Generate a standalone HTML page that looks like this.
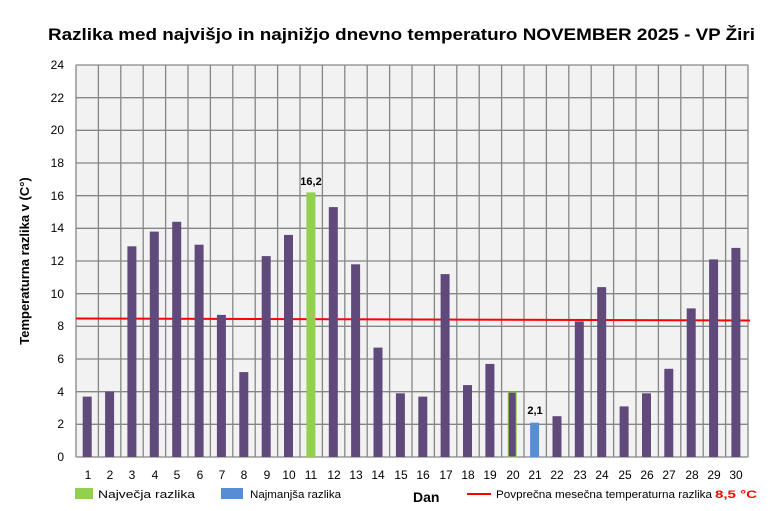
<!DOCTYPE html>
<html><head><meta charset="utf-8"><style>
html,body{margin:0;padding:0;background:#fff}
svg{display:block;font-family:"Liberation Sans",sans-serif}
</style></head><body>
<svg width="770" height="511" viewBox="0 0 770 511" xmlns="http://www.w3.org/2000/svg">
<rect width="770" height="511" fill="#fff"/>
<text x="48" y="40" font-size="17" font-weight="bold" textLength="707" lengthAdjust="spacingAndGlyphs">Razlika med najvišjo in najnižjo dnevno temperaturo NOVEMBER 2025 - VP Žiri</text>
<rect x="76" y="65" width="672" height="392" fill="#f2f2f2"/>
<g stroke="#868686" stroke-width="1.3" id="grid"></g>
<line x1="76" y1="318.5" x2="750" y2="320.5" stroke="#ff0000" stroke-width="2"/>
<text x="311" y="185" font-size="11" font-weight="bold" text-anchor="middle">16,2</text>
<text x="535" y="414" font-size="11" font-weight="bold" text-anchor="middle">2,1</text>
<g font-size="12" text-anchor="end">
<text x="64" y="461">0</text><text x="64" y="428">2</text><text x="64" y="396">4</text><text x="64" y="363">6</text><text x="64" y="330">8</text><text x="64" y="298">10</text><text x="64" y="265">12</text><text x="64" y="232">14</text><text x="64" y="200">16</text><text x="64" y="167">18</text><text x="64" y="134">20</text><text x="64" y="102">22</text><text x="64" y="69">24</text>
</g>
<g font-size="12" text-anchor="middle">
<text x="88" y="479">1</text><text x="110" y="479">2</text><text x="132" y="479">3</text><text x="155" y="479">4</text><text x="177" y="479">5</text><text x="200" y="479">6</text><text x="222" y="479">7</text><text x="244" y="479">8</text><text x="267" y="479">9</text><text x="289" y="479">10</text><text x="311" y="479">11</text><text x="334" y="479">12</text><text x="356" y="479">13</text><text x="378" y="479">14</text><text x="401" y="479">15</text><text x="423" y="479">16</text><text x="446" y="479">17</text><text x="468" y="479">18</text><text x="490" y="479">19</text><text x="513" y="479">20</text><text x="535" y="479">21</text><text x="557" y="479">22</text><text x="580" y="479">23</text><text x="602" y="479">24</text><text x="625" y="479">25</text><text x="647" y="479">26</text><text x="669" y="479">27</text><text x="692" y="479">28</text><text x="714" y="479">29</text><text x="736" y="479">30</text>
</g>
<text transform="translate(29,261) rotate(-90)" font-size="13" font-weight="bold" text-anchor="middle">Temperaturna razlika v (C°)</text>
<rect x="75" y="488" width="18" height="11" fill="#92d050"/>
<text x="98" y="498" font-size="11" textLength="97" lengthAdjust="spacingAndGlyphs">Največja razlika</text>
<rect x="221" y="488" width="22" height="11" fill="#558ed5"/>
<text x="250" y="498" font-size="11" textLength="91" lengthAdjust="spacingAndGlyphs">Najmanjša razlika</text>
<text x="413" y="502" font-size="14" font-weight="bold">Dan</text>
<line x1="467" y1="494" x2="491" y2="494" stroke="#ff0000" stroke-width="2"/>
<text x="496" y="498" font-size="11" textLength="216" lengthAdjust="spacingAndGlyphs">Povprečna mesečna temperaturna razlika</text>
<text x="715" y="498" font-size="11" font-weight="bold" fill="#ff0000" textLength="42" lengthAdjust="spacingAndGlyphs">8,5 °C</text>
<g>
<rect x="82.7" y="396.6" width="9" height="60.4" fill="#604a7b"/>
<rect x="105.1" y="391.7" width="9" height="65.3" fill="#604a7b"/>
<rect x="127.4" y="246.3" width="9" height="210.7" fill="#604a7b"/>
<rect x="149.8" y="231.6" width="9" height="225.4" fill="#604a7b"/>
<rect x="172.2" y="221.8" width="9" height="235.2" fill="#604a7b"/>
<rect x="194.6" y="244.7" width="9" height="212.3" fill="#604a7b"/>
<rect x="216.9" y="314.9" width="9" height="142.1" fill="#604a7b"/>
<rect x="239.3" y="372.1" width="9" height="84.9" fill="#604a7b"/>
<rect x="261.7" y="256.1" width="9" height="200.9" fill="#604a7b"/>
<rect x="284.0" y="234.9" width="9" height="222.1" fill="#604a7b"/>
<rect x="306.4" y="192.4" width="9" height="264.6" fill="#92d050"/>
<rect x="328.8" y="207.1" width="9" height="249.9" fill="#604a7b"/>
<rect x="351.1" y="264.3" width="9" height="192.7" fill="#604a7b"/>
<rect x="373.5" y="347.6" width="9" height="109.4" fill="#604a7b"/>
<rect x="395.9" y="393.3" width="9" height="63.7" fill="#604a7b"/>
<rect x="418.3" y="396.6" width="9" height="60.4" fill="#604a7b"/>
<rect x="440.6" y="274.1" width="9" height="182.9" fill="#604a7b"/>
<rect x="463.0" y="385.1" width="9" height="71.9" fill="#604a7b"/>
<rect x="485.4" y="363.9" width="9" height="93.1" fill="#604a7b"/>
<rect x="508.2" y="392.2" width="8" height="64.8" fill="#604a7b" stroke="#92d050" stroke-width="1"/>
<rect x="530.1" y="422.7" width="9" height="34.3" fill="#558ed5"/>
<rect x="552.5" y="416.2" width="9" height="40.8" fill="#604a7b"/>
<rect x="574.8" y="321.4" width="9" height="135.6" fill="#604a7b"/>
<rect x="597.2" y="287.1" width="9" height="169.9" fill="#604a7b"/>
<rect x="619.6" y="406.4" width="9" height="50.6" fill="#604a7b"/>
<rect x="642.0" y="393.3" width="9" height="63.7" fill="#604a7b"/>
<rect x="664.3" y="368.8" width="9" height="88.2" fill="#604a7b"/>
<rect x="686.7" y="308.4" width="9" height="148.6" fill="#604a7b"/>
<rect x="709.1" y="259.4" width="9" height="197.6" fill="#604a7b"/>
<rect x="731.4" y="247.9" width="9" height="209.1" fill="#604a7b"/>
</g>
</svg>
<script>
(function(){
var g=document.getElementById('grid'),ns='http://www.w3.org/2000/svg';
function L(x1,y1,x2,y2){var l=document.createElementNS(ns,'line');l.setAttribute('x1',x1);l.setAttribute('y1',y1);l.setAttribute('x2',x2);l.setAttribute('y2',y2);g.appendChild(l);}
for(var k=0;k<=30;k++){var x=76+22.4*k;L(x,65,x,457);}
for(var j=0;j<=12;j++){var y=457-32.667*j;L(76,y,748,y);}
})();
</script>
</body></html>
